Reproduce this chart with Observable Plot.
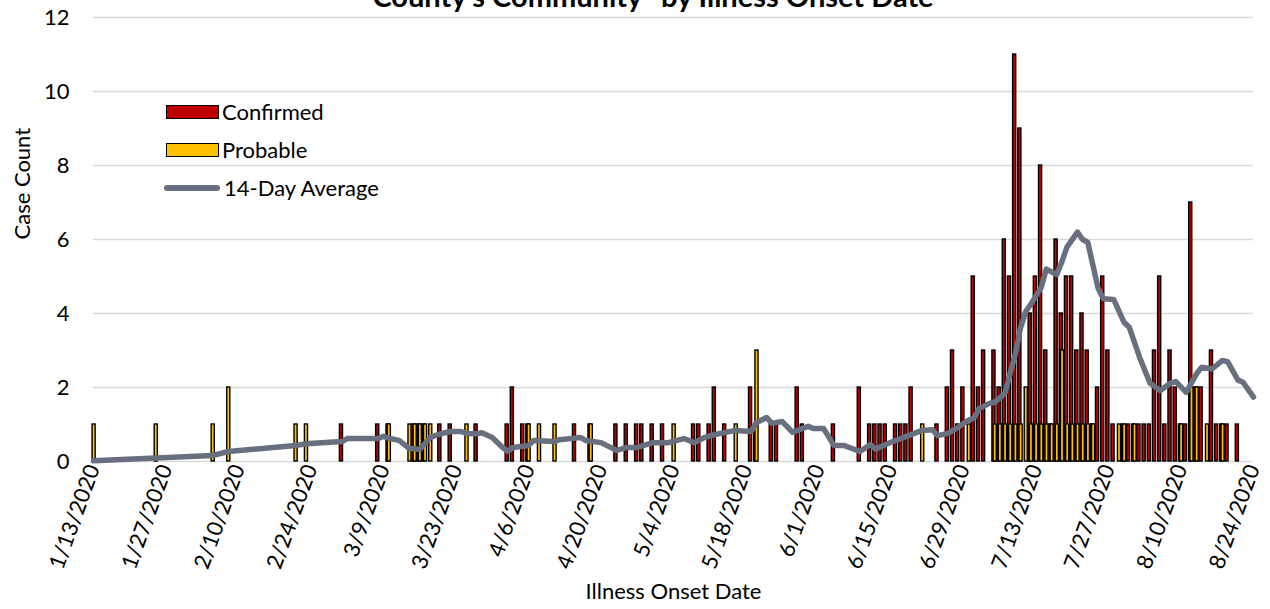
<!DOCTYPE html>
<html>
<head>
<meta charset="utf-8">
<script src="https://cdn.jsdelivr.net/npm/d3@7"></script>
<script src="https://cdn.jsdelivr.net/npm/@observablehq/plot@0.6"></script>
<style>
  html, body { margin: 0; padding: 0; background: #fff; }
  #wrap { position: relative; width: 1270px; height: 609px; overflow: hidden; font-family: Lato, "Noto Sans", sans-serif; }
  #title { position: absolute; left: 0; width: 1306px; top: -19px; text-align: center; font-weight: 700; font-size: 29px; line-height: 29px; color: #000; white-space: nowrap; }
  .lg { position: absolute; font-size: 22px; line-height: 22px; color: #000; white-space: nowrap; }
  .sw { position: absolute; width: 51px; height: 12px; border: 1px solid #000; }
  .ln { position: absolute; width: 56px; height: 6px; border-radius: 3px; background: #687080; }
  svg { display: block; }
</style>
</head>
<body>
<div id="wrap">
  <div id="chart"></div>
  <div id="title">County's Community" by Illness Onset Date</div>
  <div class="sw" style="left:166px; top:105px; background:#C00000;"></div>
  <div class="lg" style="left:222px; top:101px;">Confirmed</div>
  <div class="sw" style="left:166px; top:143px; background:#FFC000;"></div>
  <div class="lg" style="left:222px; top:139px;">Probable</div>
  <div class="ln" style="left:164px; top:185px;"></div>
  <div class="lg" style="left:224px; top:177px;">14-Day Average</div>
</div>
<script>
// ---- data ----
const confirmed = [
  ["2020-03-01",1],["2020-03-08",1],["2020-03-10",1],["2020-03-15",1],["2020-03-16",1],["2020-03-17",1],
  ["2020-03-20",1],["2020-03-22",1],["2020-03-27",1],["2020-04-02",1],["2020-04-03",2],["2020-04-05",1],
  ["2020-04-06",1],["2020-04-15",1],["2020-04-18",1],["2020-04-23",1],["2020-04-25",1],["2020-04-27",1],
  ["2020-04-28",1],["2020-04-30",1],["2020-05-02",1],["2020-05-08",1],["2020-05-09",1],["2020-05-11",1],
  ["2020-05-12",2],["2020-05-14",1],["2020-05-19",2],["2020-05-20",1],["2020-05-23",1],["2020-05-24",1],
  ["2020-05-28",2],["2020-05-29",1],["2020-06-04",1],["2020-06-09",2],["2020-06-11",1],["2020-06-12",1],
  ["2020-06-13",1],["2020-06-14",1],["2020-06-16",1],["2020-06-17",1],["2020-06-18",1],["2020-06-19",2],
  ["2020-06-24",1],["2020-06-26",2],["2020-06-27",3],["2020-06-28",1],["2020-06-29",2],["2020-07-01",5],
  ["2020-07-02",2],["2020-07-03",3],["2020-07-05",3],["2020-07-06",2],["2020-07-07",6],["2020-07-08",5],
  ["2020-07-09",11],["2020-07-10",9],["2020-07-12",4],["2020-07-13",5],["2020-07-14",8],["2020-07-15",3],
  ["2020-07-16",1],["2020-07-17",6],["2020-07-18",4],["2020-07-19",5],["2020-07-20",5],["2020-07-21",3],
  ["2020-07-22",4],["2020-07-23",3],["2020-07-24",1],["2020-07-25",2],["2020-07-26",5],["2020-07-27",3],
  ["2020-07-28",1],["2020-07-30",1],["2020-07-31",1],["2020-08-01",1],["2020-08-02",1],["2020-08-03",1],
  ["2020-08-04",1],["2020-08-05",3],["2020-08-06",5],["2020-08-07",1],["2020-08-08",3],["2020-08-09",2],
  ["2020-08-10",1],["2020-08-11",1],["2020-08-12",7],["2020-08-13",2],["2020-08-14",2],["2020-08-16",3],
  ["2020-08-17",1],["2020-08-18",1],["2020-08-19",1],["2020-08-21",1]
];
const probable = [
  ["2020-01-13",1],["2020-01-25",1],["2020-02-05",1],["2020-02-08",2],["2020-02-21",1],["2020-02-23",1],
  ["2020-03-10",1],["2020-03-14",1],["2020-03-15",1],["2020-03-16",1],["2020-03-17",1],["2020-03-18",1],
  ["2020-03-25",1],["2020-04-06",1],["2020-04-08",1],["2020-04-11",1],["2020-04-18",1],["2020-05-04",1],
  ["2020-05-16",1],["2020-05-20",3],["2020-06-21",1],["2020-06-30",1],["2020-07-05",1],["2020-07-06",1],
  ["2020-07-07",1],["2020-07-08",1],["2020-07-09",1],["2020-07-10",1],["2020-07-11",2],["2020-07-12",1],
  ["2020-07-13",1],["2020-07-14",1],["2020-07-15",1],["2020-07-16",1],["2020-07-17",1],["2020-07-18",3],
  ["2020-07-19",1],["2020-07-20",1],["2020-07-21",1],["2020-07-22",1],["2020-07-23",1],["2020-07-24",1],
  ["2020-07-29",1],["2020-07-30",1],["2020-08-01",1],["2020-08-10",1],["2020-08-12",2],["2020-08-13",2],
  ["2020-08-15",1],["2020-08-18",1]
];
const average14 = [
  ["2020-01-13",0.02],["2020-02-05",0.16],["2020-02-08",0.27],["2020-02-21",0.43],["2020-02-23",0.48],
  ["2020-03-01",0.54],["2020-03-02",0.62],["2020-03-08",0.62],["2020-03-09",0.68],["2020-03-10",0.63],
  ["2020-03-12",0.57],["2020-03-14",0.35],["2020-03-16",0.33],["2020-03-18",0.65],["2020-03-20",0.75],
  ["2020-03-22",0.81],["2020-03-24",0.81],["2020-03-25",0.76],["2020-03-27",0.75],["2020-03-28",0.78],
  ["2020-03-30",0.65],["2020-04-01",0.38],["2020-04-02",0.28],["2020-04-03",0.38],["2020-04-06",0.43],
  ["2020-04-07",0.57],["2020-04-11",0.54],["2020-04-12",0.59],["2020-04-16",0.65],["2020-04-17",0.57],
  ["2020-04-20",0.51],["2020-04-23",0.30],["2020-04-25",0.38],["2020-04-27",0.38],["2020-04-30",0.51],
  ["2020-05-03",0.51],["2020-05-06",0.62],["2020-05-08",0.51],["2020-05-10",0.65],["2020-05-12",0.73],
  ["2020-05-16",0.84],["2020-05-19",0.81],["2020-05-20",1.05],["2020-05-22",1.19],["2020-05-23",1.03],
  ["2020-05-25",1.08],["2020-05-27",0.79],["2020-05-30",0.95],["2020-05-31",0.89],["2020-06-02",0.89],
  ["2020-06-04",0.43],["2020-06-06",0.43],["2020-06-09",0.27],["2020-06-11",0.46],["2020-06-12",0.34],
  ["2020-06-15",0.52],["2020-06-18",0.68],["2020-06-21",0.84],["2020-06-23",0.86],["2020-06-24",0.70],
  ["2020-06-26",0.76],["2020-06-28",0.93],["2020-06-30",1.12],["2020-07-01",1.17],["2020-07-02",1.43],
  ["2020-07-04",1.57],["2020-07-05",1.60],["2020-07-07",1.84],["2020-07-08",2.38],["2020-07-09",2.90],
  ["2020-07-10",3.60],["2020-07-11",4.05],["2020-07-12",4.25],["2020-07-14",4.70],["2020-07-15",5.20],
  ["2020-07-17",5.05],["2020-07-18",5.40],["2020-07-19",5.80],["2020-07-21",6.20],["2020-07-22",6.00],
  ["2020-07-23",5.92],["2020-07-25",4.68],["2020-07-26",4.40],["2020-07-28",4.38],["2020-07-30",3.76],
  ["2020-07-31",3.63],["2020-08-02",2.82],["2020-08-04",2.12],["2020-08-06",1.92],["2020-08-08",2.12],
  ["2020-08-09",2.16],["2020-08-11",1.87],["2020-08-13",2.37],["2020-08-14",2.55],["2020-08-16",2.50],
  ["2020-08-18",2.73],["2020-08-19",2.70],["2020-08-21",2.20],["2020-08-22",2.14],["2020-08-24",1.74]
];
const xTickDates = ["2020-01-13","2020-01-27","2020-02-10","2020-02-24","2020-03-09","2020-03-23",
  "2020-04-06","2020-04-20","2020-05-04","2020-05-18","2020-06-01","2020-06-15","2020-06-29",
  "2020-07-13","2020-07-27","2020-08-10","2020-08-24"];
const yTicks = [0, 2, 4, 6, 8, 10, 12];

// ---- build ----
const DAY = 864e5;
const toDate = s => new Date(s + "T00:00:00Z");
const confData = confirmed.map(([d, n]) => ({date: toDate(d), n}));
const probData = probable.map(([d, n]) => ({date: toDate(d), n}));
const avgData = average14.map(([d, v]) => ({date: toDate(d), v}));
const xTicks = xTickDates.map(toDate);
const fmt = d => `${d.getUTCMonth() + 1}/${d.getUTCDate()}/${d.getUTCFullYear()}`;

const chart = Plot.plot({
  width: 1270,
  height: 609,
  marginLeft: 93,
  marginRight: 17,
  marginTop: 17,
  marginBottom: 148,
  style: {fontFamily: "Lato, 'Noto Sans', sans-serif", color: "#000", background: "#fff"},
  x: {type: "utc", domain: [toDate("2020-01-13"), toDate("2020-08-24")]},
  y: {domain: [0, 12]},
  marks: [
    Plot.gridY(yTicks, {stroke: "#d9d9d9", strokeOpacity: 1, strokeWidth: 1.5}),
    Plot.axisY(yTicks, {tickSize: 0, tickPadding: 24, fontSize: 22, label: null}),
    Plot.axisX(xTicks, {tickSize: 0, tickPadding: 4, tickRotate: -70, fontSize: 22, tickFormat: fmt, label: null}),
    Plot.rectY(confData, {
      x1: d => new Date(+d.date - 0.42 * DAY), x2: d => new Date(+d.date + 0.18 * DAY),
      y1: 0, y2: "n", fill: "#C00000", stroke: "#000", strokeWidth: 1.4
    }),
    Plot.rectY(probData, {
      x1: d => new Date(+d.date - 0.18 * DAY), x2: d => new Date(+d.date + 0.42 * DAY),
      y1: 0, y2: "n", fill: "#FFC000", stroke: "#000", strokeWidth: 1.4
    }),
    Plot.line(avgData, {x: "date", y: "v", stroke: "#687080", strokeWidth: 5.5, strokeLinejoin: "round", strokeLinecap: "round"}),
    Plot.text(["Illness Onset Date"], {frameAnchor: "bottom", dy: 137, fontSize: 22, fill: "#000"}),
    Plot.text(["Case Count"], {frameAnchor: "left", dx: -71, rotate: -90, fontSize: 22, fill: "#000"})
  ]
});
document.getElementById("chart").appendChild(chart);
</script>
</body>
</html>
